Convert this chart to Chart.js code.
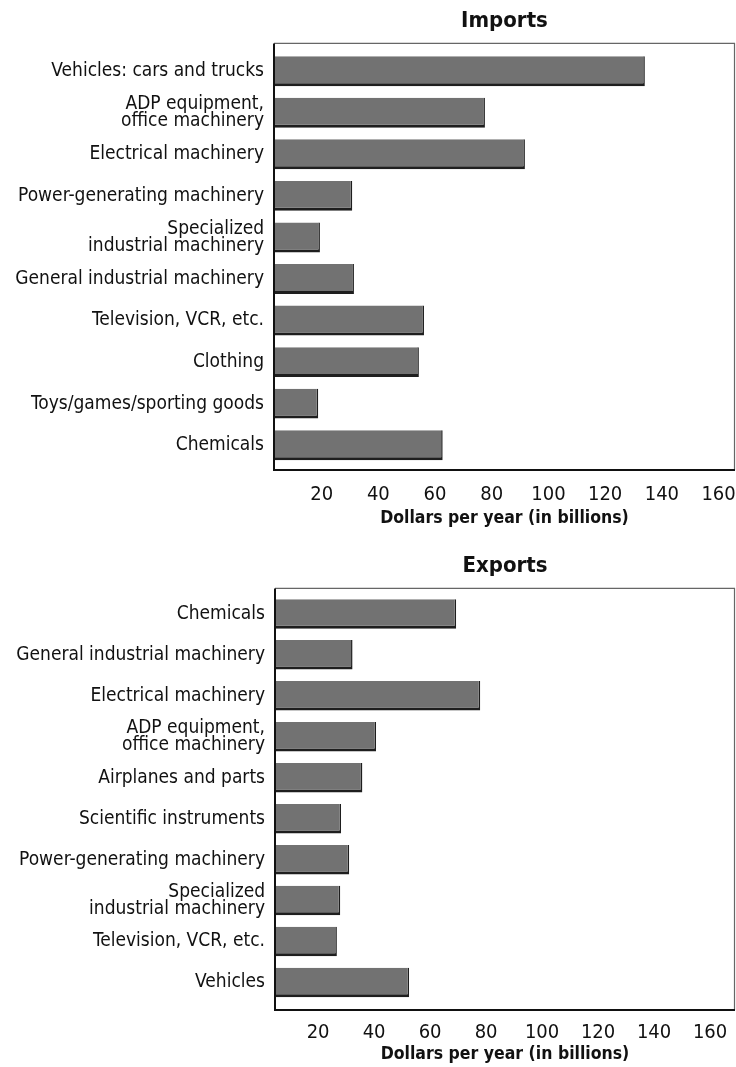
<!DOCTYPE html>
<html>
<head>
<meta charset="utf-8">
<script src="https://cdn.jsdelivr.net/npm/chart.js@4.4.1/dist/chart.umd.min.js"></script>
<style>
  html, body { margin: 0; padding: 0; background: #fff; }
  body { width: 736px; height: 1067px; position: relative; overflow: hidden; }
  .box { position: absolute; left: 0; width: 736px; }
  #b1 { top: 0; height: 540px; }
  #b2 { top: 540px; height: 527px; }
</style>
</head>
<body>
<div class="box" id="b1"><canvas id="c1"></canvas></div>
<div class="box" id="b2"><canvas id="c2"></canvas></div>
<script>
const importCategories = [
  'Vehicles: cars and trucks',
  ['ADP equipment,', 'office machinery'],
  'Electrical machinery',
  'Power-generating machinery',
  ['Specialized', 'industrial machinery'],
  'General industrial machinery',
  'Television, VCR, etc.',
  'Clothing',
  'Toys/games/sporting goods',
  'Chemicals'
];
const importValues = [134, 77.6, 91.7, 30.8, 19.4, 31.4, 56.1, 54.3, 18.8, 62.7];

const exportCategories = [
  'Chemicals',
  'General industrial machinery',
  'Electrical machinery',
  ['ADP equipment,', 'office machinery'],
  'Airplanes and parts',
  'Scientific instruments',
  'Power-generating machinery',
  ['Specialized', 'industrial machinery'],
  'Television, VCR, etc.',
  'Vehicles'
];
const exportValues = [69.3, 32.3, 77.9, 40.7, 35.8, 28.2, 31.1, 27.9, 26.7, 52.5];

const tickValues = [20, 40, 60, 80, 100, 120, 140, 160];
const importTitle = 'Imports';
const exportTitle = 'Exports';
const axisTitle = 'Dollars per year (in billions)';

const FONT = "'Liberation Sans Narrow', 'DejaVu Sans Condensed', 'Liberation Sans', sans-serif";

const framePlugin = {
  id: 'frame',
  afterDatasetsDraw(chart, args, opts) {
    const a = chart.chartArea, ctx = chart.ctx;
    const top = a.top - opts.extTop, bottom = a.bottom + opts.extBottom;
    ctx.save();
    ctx.strokeStyle = '#666';
    ctx.lineWidth = 1.2;
    ctx.beginPath();
    ctx.moveTo(a.left, top); ctx.lineTo(a.right - 0.5, top); ctx.lineTo(a.right - 0.5, bottom);
    ctx.stroke();
    ctx.strokeStyle = '#111';
    ctx.lineWidth = 2;
    ctx.beginPath();
    ctx.moveTo(a.left, top); ctx.lineTo(a.left, bottom); ctx.lineTo(a.right, bottom);
    ctx.stroke();
    ctx.restore();
  }
};

function makeChart(id, cats, vals, title, cfg) {
  return new Chart(document.getElementById(id), {
    type: 'bar',
    data: {
      labels: cats,
      datasets: [{
        data: vals,
        backgroundColor: '#727272',
        borderColor: '#1e1e1e',
        borderWidth: { top: 0, left: 0, right: 1.5, bottom: 3 },
        borderSkipped: false,
        categoryPercentage: 1,
        barPercentage: 0.72
      }]
    },
    options: {
      indexAxis: 'y',
      responsive: true,
      maintainAspectRatio: false,
      animation: false,
      layout: { padding: { left: 0, right: 1, top: 0, bottom: 0 } },
      plugins: {
        legend: { display: false },
        tooltip: { enabled: false },
        title: {
          display: true,
          text: title,
          fullSize: false,
          color: '#111',
          font: { family: FONT, size: 22, weight: 'bold' },
          padding: { top: cfg.titleTop, bottom: cfg.titleBottom }
        },
        frame: { extTop: cfg.extTop, extBottom: cfg.extBottom }
      },
      scales: {
        x: {
          type: 'linear',
          min: cfg.min,
          max: cfg.max,
          grid: { display: false, drawTicks: false },
          border: { display: false },
          afterBuildTicks(s) { s.ticks = tickValues.map(v => ({ value: v })); },
          afterFit(s) { s.height = cfg.xHeight; s.paddingLeft = 0; s.paddingRight = 0; },
          ticks: {
            color: '#111',
            padding: cfg.tickPad,
            maxRotation: 0,
            autoSkip: false,
            font: { family: FONT, size: 20 }
          },
          title: {
            display: true,
            text: axisTitle,
            color: '#111',
            font: { family: FONT, size: 17.5, weight: 'bold' },
            padding: { top: 0, bottom: cfg.axisTitleBottom }
          }
        },
        y: {
          grid: { display: false, drawTicks: false },
          border: { display: false },
          afterFit(s) { s.width = cfg.left; s.paddingTop = 0; s.paddingBottom = 0; },
          ticks: {
            color: '#111',
            padding: 10,
            autoSkip: false,
            font: { family: FONT, size: 19, lineHeight: 0.9 }
          }
        }
      }
    },
    plugins: [framePlugin]
  });
}

makeChart('c1', importCategories, importValues, importTitle, {
  min: 3.2, max: 165.8, left: 274,
  titleTop: 8, titleBottom: 16,
  xHeight: 74, tickPad: 17, axisTitleBottom: 11,
  extTop: 7, extBottom: 4
});
makeChart('c2', exportCategories, exportValues, exportTitle, {
  min: 4.6, max: 168.9, left: 275,
  titleTop: 13, titleBottom: 14,
  xHeight: 64, tickPad: 18, axisTitleBottom: 2,
  extTop: 5, extBottom: 7
});
</script>
</body>
</html>
